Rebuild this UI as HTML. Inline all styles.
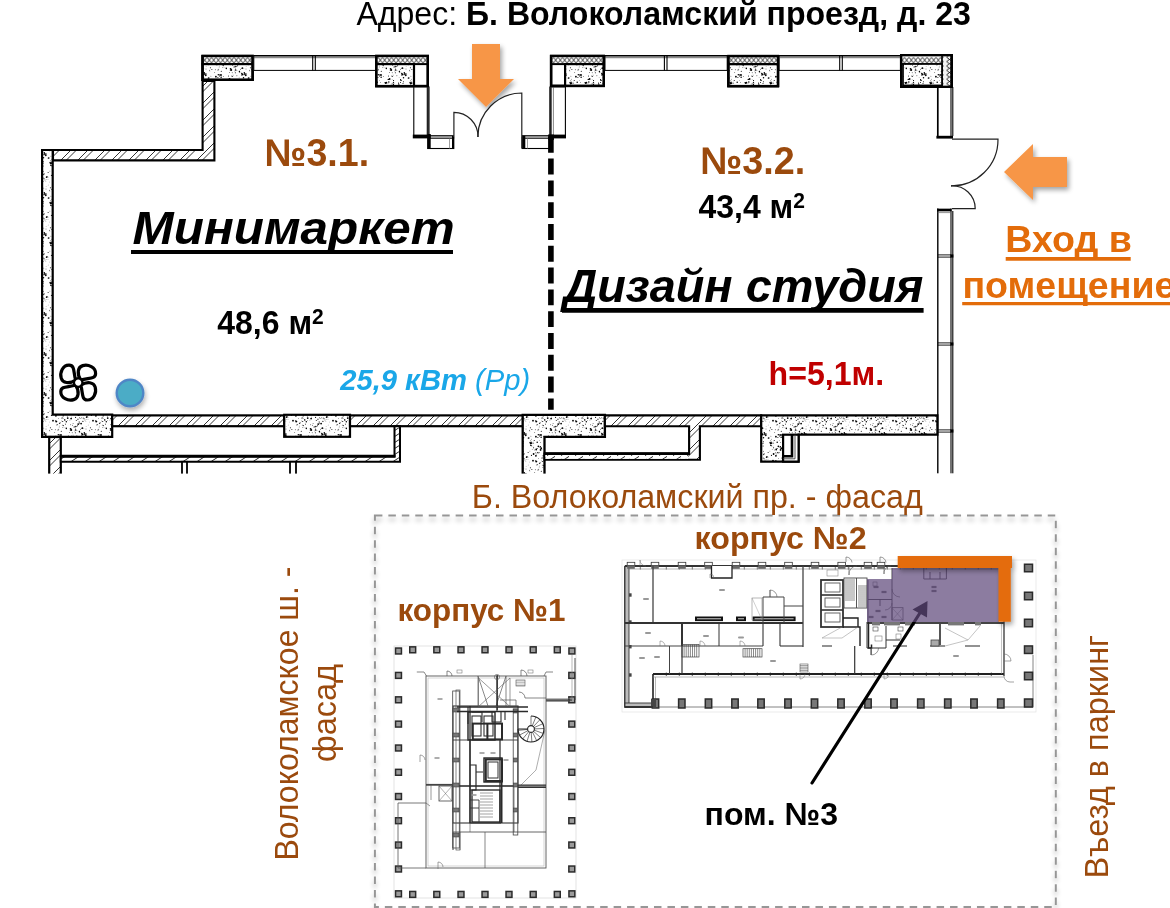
<!DOCTYPE html>
<html lang="ru"><head><meta charset="utf-8"><title>План помещения №3</title>
<style>
html,body{margin:0;padding:0;background:#fff;}
body{width:1170px;height:908px;overflow:hidden;position:relative;font-family:"Liberation Sans",Arial,sans-serif;}
svg{position:absolute;left:0;top:0;display:block;will-change:transform;}
text{font-family:"Liberation Sans",Arial,sans-serif;}
.b{font-weight:bold}.i{font-style:italic}
.br{fill:#9b4a0d}.or{fill:#e36c0a}
</style></head><body>
<svg width="1170" height="908" viewBox="0 0 1170 908">
<defs><pattern id="conc" width="40" height="40" patternUnits="userSpaceOnUse"><rect width="40" height="40" fill="#fff"/><circle cx="13.0" cy="6.0" r="0.30" fill="#000"/><circle cx="2.9" cy="21.4" r="0.55" fill="#000"/><circle cx="23.3" cy="36.4" r="0.45" fill="#000"/><circle cx="1.5" cy="17.3" r="0.35" fill="#000"/><circle cx="9.6" cy="22.0" r="0.30" fill="#000"/><circle cx="33.1" cy="5.0" r="0.45" fill="#000"/><circle cx="25.2" cy="23.3" r="0.30" fill="#000"/><circle cx="23.1" cy="15.9" r="0.45" fill="#000"/><circle cx="1.9" cy="34.3" r="0.50" fill="#000"/><circle cx="16.8" cy="21.6" r="0.50" fill="#000"/><circle cx="22.4" cy="27.3" r="0.35" fill="#000"/><circle cx="23.3" cy="25.6" r="0.55" fill="#000"/><circle cx="3.9" cy="28.5" r="0.30" fill="#000"/><circle cx="24.8" cy="19.9" r="0.75" fill="#000"/><circle cx="31.1" cy="18.6" r="0.90" fill="#000"/><circle cx="14.5" cy="9.9" r="0.40" fill="#000"/><circle cx="28.0" cy="9.8" r="0.50" fill="#000"/><circle cx="21.0" cy="35.0" r="0.90" fill="#000"/><circle cx="11.5" cy="39.2" r="0.35" fill="#000"/><circle cx="20.5" cy="6.6" r="0.55" fill="#000"/><circle cx="6.1" cy="19.6" r="0.30" fill="#000"/><circle cx="38.5" cy="3.1" r="0.55" fill="#000"/><circle cx="13.6" cy="14.0" r="0.90" fill="#000"/><circle cx="23.2" cy="18.2" r="0.35" fill="#000"/><circle cx="37.8" cy="19.0" r="0.35" fill="#000"/><circle cx="2.4" cy="28.1" r="0.90" fill="#000"/><circle cx="11.4" cy="15.4" r="0.55" fill="#000"/><circle cx="0.9" cy="18.5" r="0.40" fill="#000"/><circle cx="24.4" cy="19.7" r="0.45" fill="#000"/><circle cx="30.7" cy="5.2" r="0.45" fill="#000"/><circle cx="15.9" cy="36.7" r="0.90" fill="#000"/><circle cx="3.2" cy="18.0" r="0.50" fill="#000"/><circle cx="35.3" cy="32.8" r="0.50" fill="#000"/><circle cx="28.3" cy="39.5" r="0.75" fill="#000"/><circle cx="38.3" cy="6.0" r="0.40" fill="#000"/><circle cx="6.1" cy="26.3" r="0.30" fill="#000"/><circle cx="19.4" cy="23.6" r="0.50" fill="#000"/><circle cx="11.3" cy="5.8" r="0.55" fill="#000"/><circle cx="24.4" cy="12.7" r="0.40" fill="#000"/><circle cx="27.6" cy="20.6" r="0.30" fill="#000"/><circle cx="18.3" cy="34.8" r="0.75" fill="#000"/><circle cx="15.9" cy="15.8" r="0.90" fill="#000"/><circle cx="25.4" cy="2.5" r="0.35" fill="#000"/><circle cx="39.4" cy="17.6" r="0.35" fill="#000"/><circle cx="13.6" cy="2.1" r="0.30" fill="#000"/><circle cx="22.7" cy="21.5" r="0.55" fill="#000"/><circle cx="24.5" cy="2.8" r="0.45" fill="#000"/><circle cx="24.6" cy="5.9" r="0.50" fill="#000"/><circle cx="38.2" cy="24.1" r="0.90" fill="#000"/><circle cx="4.9" cy="34.0" r="0.90" fill="#000"/><circle cx="19.2" cy="12.5" r="0.40" fill="#000"/><circle cx="4.1" cy="13.7" r="0.50" fill="#000"/><circle cx="19.1" cy="27.7" r="0.30" fill="#000"/><circle cx="8.2" cy="38.1" r="0.55" fill="#000"/><circle cx="5.9" cy="21.7" r="0.30" fill="#000"/><circle cx="30.3" cy="11.9" r="0.35" fill="#000"/><circle cx="27.8" cy="10.4" r="0.55" fill="#000"/><circle cx="36.3" cy="14.2" r="0.45" fill="#000"/><circle cx="21.3" cy="31.2" r="0.55" fill="#000"/><circle cx="25.5" cy="24.5" r="0.45" fill="#000"/><circle cx="32.2" cy="32.7" r="0.45" fill="#000"/><circle cx="8.0" cy="19.7" r="0.30" fill="#000"/><circle cx="39.6" cy="31.6" r="0.90" fill="#000"/><circle cx="10.4" cy="27.7" r="0.55" fill="#000"/><circle cx="17.9" cy="37.5" r="0.55" fill="#000"/><circle cx="38.2" cy="14.6" r="0.45" fill="#000"/><circle cx="4.1" cy="18.8" r="0.55" fill="#000"/><circle cx="8.2" cy="25.0" r="0.30" fill="#000"/><circle cx="19.2" cy="26.1" r="0.35" fill="#000"/><circle cx="33.4" cy="4.8" r="0.75" fill="#000"/><circle cx="31.3" cy="30.0" r="0.90" fill="#000"/><circle cx="35.6" cy="17.4" r="0.55" fill="#000"/><circle cx="3.5" cy="37.8" r="0.75" fill="#000"/><circle cx="18.5" cy="29.7" r="0.35" fill="#000"/><circle cx="29.0" cy="6.8" r="0.40" fill="#000"/><circle cx="1.1" cy="23.6" r="0.90" fill="#000"/><circle cx="32.3" cy="5.8" r="0.90" fill="#000"/><circle cx="26.3" cy="14.0" r="0.40" fill="#000"/><circle cx="0.9" cy="32.0" r="0.35" fill="#000"/><circle cx="21.1" cy="37.3" r="0.75" fill="#000"/><circle cx="39.5" cy="7.8" r="0.45" fill="#000"/><circle cx="1.1" cy="8.5" r="0.45" fill="#000"/><circle cx="30.5" cy="13.0" r="0.75" fill="#000"/><circle cx="33.4" cy="2.4" r="0.55" fill="#000"/><circle cx="35.9" cy="26.5" r="0.75" fill="#000"/><circle cx="33.1" cy="35.1" r="0.40" fill="#000"/><circle cx="21.3" cy="20.9" r="0.30" fill="#000"/><circle cx="34.9" cy="31.1" r="0.30" fill="#000"/><circle cx="31.0" cy="6.0" r="0.40" fill="#000"/><circle cx="18.9" cy="29.0" r="0.30" fill="#000"/><circle cx="13.0" cy="20.7" r="0.90" fill="#000"/><circle cx="31.4" cy="4.2" r="0.30" fill="#000"/><circle cx="9.9" cy="11.1" r="0.35" fill="#000"/><circle cx="20.3" cy="22.5" r="0.35" fill="#000"/><circle cx="17.7" cy="24.5" r="0.45" fill="#000"/><circle cx="27.7" cy="18.1" r="0.90" fill="#000"/><circle cx="20.3" cy="9.9" r="0.50" fill="#000"/><circle cx="36.9" cy="35.7" r="0.45" fill="#000"/><circle cx="33.6" cy="5.5" r="0.35" fill="#000"/><circle cx="15.7" cy="12.6" r="0.45" fill="#000"/><circle cx="17.1" cy="8.5" r="0.50" fill="#000"/><circle cx="31.4" cy="35.9" r="0.40" fill="#000"/><circle cx="37.6" cy="25.7" r="0.55" fill="#000"/><circle cx="5.7" cy="35.3" r="0.90" fill="#000"/><circle cx="8.8" cy="38.1" r="0.75" fill="#000"/><circle cx="35.4" cy="6.5" r="0.45" fill="#000"/><circle cx="6.5" cy="17.3" r="0.75" fill="#000"/><circle cx="13.6" cy="7.8" r="0.55" fill="#000"/><circle cx="3.7" cy="14.6" r="0.55" fill="#000"/><circle cx="22.2" cy="17.6" r="0.30" fill="#000"/><circle cx="15.4" cy="20.7" r="0.50" fill="#000"/><circle cx="20.5" cy="2.6" r="0.45" fill="#000"/><circle cx="38.9" cy="4.2" r="0.50" fill="#000"/><circle cx="10.9" cy="36.2" r="0.40" fill="#000"/><circle cx="10.8" cy="5.2" r="0.75" fill="#000"/><circle cx="34.0" cy="27.0" r="0.50" fill="#000"/><circle cx="16.2" cy="21.5" r="0.90" fill="#000"/><circle cx="28.0" cy="3.6" r="0.30" fill="#000"/><circle cx="32.0" cy="7.3" r="0.35" fill="#000"/><circle cx="10.8" cy="0.7" r="0.35" fill="#000"/><circle cx="32.1" cy="3.3" r="0.45" fill="#000"/><circle cx="2.7" cy="34.5" r="0.90" fill="#000"/><circle cx="0.5" cy="39.8" r="0.75" fill="#000"/><circle cx="37.1" cy="10.7" r="0.40" fill="#000"/><circle cx="1.7" cy="28.4" r="0.35" fill="#000"/><circle cx="38.8" cy="10.5" r="0.40" fill="#000"/><circle cx="8.1" cy="12.5" r="0.50" fill="#000"/><circle cx="21.2" cy="8.2" r="0.90" fill="#000"/><circle cx="20.0" cy="7.1" r="0.55" fill="#000"/><circle cx="32.1" cy="39.8" r="0.30" fill="#000"/><circle cx="0.6" cy="29.3" r="0.45" fill="#000"/><circle cx="20.6" cy="9.8" r="0.90" fill="#000"/><circle cx="4.3" cy="32.8" r="0.75" fill="#000"/><circle cx="26.3" cy="21.8" r="0.75" fill="#000"/><circle cx="38.8" cy="12.3" r="0.45" fill="#000"/><circle cx="39.3" cy="13.7" r="0.40" fill="#000"/><circle cx="16.2" cy="13.9" r="0.30" fill="#000"/><circle cx="33.5" cy="0.6" r="0.50" fill="#000"/><circle cx="17.2" cy="2.2" r="0.75" fill="#000"/><circle cx="34.8" cy="26.8" r="0.50" fill="#000"/><circle cx="24.0" cy="27.7" r="0.30" fill="#000"/><circle cx="18.4" cy="6.3" r="0.90" fill="#000"/><circle cx="0.1" cy="14.6" r="0.55" fill="#000"/><circle cx="38.9" cy="21.9" r="0.45" fill="#000"/><circle cx="1.4" cy="35.3" r="0.45" fill="#000"/><circle cx="14.3" cy="0.0" r="0.75" fill="#000"/><circle cx="3.4" cy="11.2" r="0.45" fill="#000"/><circle cx="9.9" cy="31.0" r="0.35" fill="#000"/><circle cx="10.6" cy="3.6" r="0.75" fill="#000"/><circle cx="23.5" cy="15.8" r="0.50" fill="#000"/><circle cx="12.2" cy="9.3" r="0.40" fill="#000"/><circle cx="26.3" cy="28.6" r="0.75" fill="#000"/><circle cx="30.6" cy="28.8" r="0.90" fill="#000"/><circle cx="6.0" cy="29.0" r="0.40" fill="#000"/><circle cx="1.8" cy="33.4" r="0.75" fill="#000"/><circle cx="29.4" cy="32.5" r="0.40" fill="#000"/><circle cx="36.4" cy="30.1" r="0.30" fill="#000"/><circle cx="33.1" cy="23.4" r="0.45" fill="#000"/><circle cx="3.4" cy="1.7" r="0.55" fill="#000"/><circle cx="38.4" cy="15.1" r="0.90" fill="#000"/><circle cx="22.3" cy="25.1" r="0.45" fill="#000"/><circle cx="19.6" cy="0.1" r="0.35" fill="#000"/><circle cx="29.9" cy="20.1" r="0.35" fill="#000"/><circle cx="26.4" cy="2.6" r="0.90" fill="#000"/><circle cx="10.1" cy="3.0" r="0.50" fill="#000"/><circle cx="9.4" cy="30.3" r="0.45" fill="#000"/><circle cx="29.6" cy="39.0" r="0.90" fill="#000"/><circle cx="33.8" cy="3.1" r="0.50" fill="#000"/><circle cx="30.7" cy="24.7" r="0.45" fill="#000"/><circle cx="3.1" cy="5.9" r="0.50" fill="#000"/><circle cx="26.1" cy="27.7" r="0.40" fill="#000"/><circle cx="0.5" cy="2.4" r="0.50" fill="#000"/><circle cx="38.9" cy="4.0" r="0.45" fill="#000"/><circle cx="27.0" cy="11.6" r="0.50" fill="#000"/><circle cx="18.6" cy="18.7" r="0.35" fill="#000"/><circle cx="39.7" cy="22.0" r="0.50" fill="#000"/><circle cx="39.1" cy="37.5" r="0.30" fill="#000"/><circle cx="11.6" cy="3.1" r="0.90" fill="#000"/><circle cx="39.8" cy="15.5" r="0.45" fill="#000"/><circle cx="3.0" cy="3.6" r="0.50" fill="#000"/><circle cx="38.1" cy="5.3" r="0.50" fill="#000"/><circle cx="35.5" cy="28.1" r="0.45" fill="#000"/><circle cx="19.9" cy="35.0" r="0.75" fill="#000"/><circle cx="1.0" cy="0.1" r="0.90" fill="#000"/><circle cx="27.3" cy="16.2" r="0.40" fill="#000"/><circle cx="16.6" cy="15.0" r="0.35" fill="#000"/><circle cx="33.6" cy="0.1" r="0.55" fill="#000"/><circle cx="33.6" cy="4.8" r="0.45" fill="#000"/><circle cx="28.5" cy="36.1" r="0.50" fill="#000"/><circle cx="10.1" cy="2.6" r="0.75" fill="#000"/><circle cx="40.0" cy="23.6" r="0.55" fill="#000"/><circle cx="37.0" cy="30.2" r="0.30" fill="#000"/><circle cx="11.2" cy="2.1" r="0.50" fill="#000"/><circle cx="25.4" cy="6.0" r="0.50" fill="#000"/><circle cx="17.4" cy="12.6" r="0.55" fill="#000"/><circle cx="31.4" cy="17.1" r="0.30" fill="#000"/><circle cx="32.5" cy="25.2" r="0.45" fill="#000"/><circle cx="28.8" cy="2.0" r="0.75" fill="#000"/><circle cx="18.0" cy="30.1" r="0.50" fill="#000"/><circle cx="19.4" cy="36.5" r="0.40" fill="#000"/><circle cx="6.8" cy="16.6" r="0.50" fill="#000"/><circle cx="11.9" cy="29.6" r="0.50" fill="#000"/><circle cx="16.2" cy="9.5" r="0.90" fill="#000"/><circle cx="22.3" cy="15.8" r="0.40" fill="#000"/><circle cx="25.7" cy="3.0" r="0.90" fill="#000"/><circle cx="22.0" cy="18.1" r="0.55" fill="#000"/><circle cx="39.9" cy="18.0" r="0.40" fill="#000"/><circle cx="21.9" cy="9.8" r="0.40" fill="#000"/><circle cx="13.7" cy="3.6" r="0.45" fill="#000"/><circle cx="14.7" cy="32.4" r="0.45" fill="#000"/><circle cx="35.5" cy="30.0" r="0.75" fill="#000"/><circle cx="15.3" cy="29.8" r="0.45" fill="#000"/><circle cx="15.1" cy="13.5" r="0.30" fill="#000"/><circle cx="19.9" cy="23.0" r="0.55" fill="#000"/><circle cx="5.0" cy="20.1" r="0.45" fill="#000"/><path d="M5.3 34.3l1.3 -1l.5 1.1z" fill="#222"/><path d="M15.8 25.2l1.3 -1l.5 1.1z" fill="#222"/><path d="M17.5 13.2l1.3 -1l.5 1.1z" fill="#222"/><path d="M31.3 36.8l1.3 -1l.5 1.1z" fill="#222"/><path d="M6.6 17.3l1.3 -1l.5 1.1z" fill="#222"/><path d="M29.5 31.0l1.3 -1l.5 1.1z" fill="#222"/><path d="M36.9 19.6l1.3 -1l.5 1.1z" fill="#222"/><path d="M4.6 35.5l1.3 -1l.5 1.1z" fill="#222"/><path d="M35.4 21.0l1.3 -1l.5 1.1z" fill="#222"/></pattern>
<pattern id="hat" width="17" height="17" patternUnits="userSpaceOnUse"><rect width="17" height="17" fill="#fff"/><path d="M-1 1L1 -1M-1 6.5L6.5 -1M-1 18L18 -1M4.5 18L18 4.5M16 18L18 16" stroke="#111" stroke-width="0.85"/></pattern>
<pattern id="hat3" width="14" height="6" patternUnits="userSpaceOnUse"><rect width="14" height="6" fill="#fff"/><path d="M1 5.6L9 0.4" stroke="#111" stroke-width="0.9"/></pattern>
<pattern id="hat2" width="9" height="9" patternUnits="userSpaceOnUse"><rect width="9" height="9" fill="#fff"/><path d="M-1 10L10 -1M-5.5 5.5L5.5 -5.5M3.5 14.5L14.5 3.5" stroke="#333" stroke-width="0.7"/></pattern>
<pattern id="ins" width="4.5" height="8.1" y="56" patternUnits="userSpaceOnUse"><rect width="4.5" height="8.1" fill="#fff"/><path d="M0 1.2L4.5 7.1M4.5 1.2L0 7.1" stroke="#000" stroke-width="0.8"/></pattern>
<pattern id="insv" width="9" height="4.4" patternUnits="userSpaceOnUse"><rect width="9" height="4.4" fill="#f4f4f4"/><path d="M1.4 0L7.6 4.4M1.4 4.4L7.6 0" stroke="#000" stroke-width="0.8"/></pattern>
<filter id="sh" x="-30%" y="-30%" width="170%" height="170%"><feGaussianBlur in="SourceAlpha" stdDeviation="2.4"/><feOffset dx="1.5" dy="2.5"/><feComponentTransfer><feFuncA type="linear" slope="0.36"/></feComponentTransfer><feMerge><feMergeNode/><feMergeNode in="SourceGraphic"/></feMerge></filter>
<filter id="sh2" x="-10%" y="-10%" width="120%" height="120%"><feGaussianBlur in="SourceAlpha" stdDeviation="2.6"/><feOffset dx="0" dy="4"/><feComponentTransfer><feFuncA type="linear" slope="0.3"/></feComponentTransfer><feMerge><feMergeNode/><feMergeNode in="SourceGraphic"/></feMerge></filter>
<filter id="sh3" x="-40%" y="-40%" width="190%" height="190%"><feGaussianBlur in="SourceAlpha" stdDeviation="2.6"/><feOffset dx="0.6" dy="2.6"/><feComponentTransfer><feFuncA type="linear" slope="0.32"/></feComponentTransfer><feMerge><feMergeNode/><feMergeNode in="SourceGraphic"/></feMerge></filter>
</defs>
<path d="M53 150H202.6V81H214.4V160.4H53Z" fill="url(#hat)" stroke="#000" stroke-width="2.1" />
<path d="M42.1 150H52.7V414.6H112.2V436.8H42.1Z" fill="url(#conc)" stroke="#000" stroke-width="2.2" />
<rect x="202.6" y="56" width="50" height="23.8" fill="#fff" stroke="#000" stroke-width="2.4" />
<rect x="202.6" y="56" width="50" height="8.1" fill="url(#ins)" stroke="#000" stroke-width="2" />
<rect x="202.6" y="64.1" width="50" height="15.7" fill="url(#conc)" stroke="#000" stroke-width="2.2" />
<rect x="202.6" y="56" width="50" height="23.8" fill="none" stroke="#000" stroke-width="2.4" />
<rect x="253.8" y="55.6" width="122.5" height="14.8" fill="#fff" stroke="#000" stroke-width="1" />
<line x1="253.8" y1="55.7" x2="376.3" y2="55.7" stroke="#000" stroke-width="1.6" />
<line x1="253.8" y1="57.7" x2="376.3" y2="57.7" stroke="#333" stroke-width="0.7" />
<line x1="312.7" y1="55.6" x2="312.7" y2="70.4" stroke="#000" stroke-width="1.1" />
<line x1="315.3" y1="55.6" x2="315.3" y2="70.4" stroke="#000" stroke-width="1.1" />
<rect x="376.3" y="56" width="51.5" height="30.1" fill="#fff" stroke="#000" stroke-width="2.4" />
<rect x="376.3" y="56" width="51.5" height="8.1" fill="url(#ins)" stroke="#000" stroke-width="2" />
<rect x="376.3" y="64.1" width="37.7" height="22" fill="url(#conc)" stroke="#000" stroke-width="2.2" />
<rect x="376.3" y="56" width="51.5" height="30.1" fill="none" stroke="#000" stroke-width="2.4" />
<rect x="413.8" y="87" width="15.2" height="49" fill="#fff" stroke="#000" stroke-width="1.1" />
<line x1="427.8" y1="87" x2="427.8" y2="136" stroke="#222" stroke-width="2.2" />
<rect x="427.7" y="135.7" width="26.1" height="12.8" fill="#fff" stroke="#000" stroke-width="1.1" />
<rect x="428" y="135.7" width="25.8" height="2.9" fill="#999" stroke="#222" stroke-width="0.8" />
<line x1="429.2" y1="134" x2="429.2" y2="149" stroke="#000" stroke-width="3" />
<line x1="453" y1="136" x2="453" y2="148.5" stroke="#000" stroke-width="2" />
<line x1="449.5" y1="138.6" x2="449.5" y2="148.5" stroke="#888" stroke-width="0.8" />
<line x1="412.8" y1="136.5" x2="430.6" y2="136.5" stroke="#000" stroke-width="3.8" />
<rect x="522.3" y="135.7" width="27.7" height="12.8" fill="#fff" stroke="#000" stroke-width="1.1" />
<rect x="522.3" y="135.7" width="27.7" height="2.9" fill="#999" stroke="#222" stroke-width="0.8" />
<line x1="523.8" y1="135.7" x2="523.8" y2="148.5" stroke="#000" stroke-width="3" />
<line x1="527.5" y1="138.6" x2="527.5" y2="148.5" stroke="#888" stroke-width="0.8" />
<rect x="551.1" y="56" width="52.7" height="29.9" fill="#fff" stroke="#000" stroke-width="2.4" />
<rect x="551.1" y="56" width="52.7" height="8.1" fill="url(#ins)" stroke="#000" stroke-width="2" />
<rect x="565.1" y="64.1" width="38.7" height="21.8" fill="url(#conc)" stroke="#000" stroke-width="2.2" />
<rect x="551.1" y="56" width="52.7" height="29.9" fill="none" stroke="#000" stroke-width="2.4" />
<rect x="550" y="87" width="15.4" height="49" fill="#fff" stroke="#000" stroke-width="1.1" />
<line x1="550.6" y1="87" x2="550.6" y2="136" stroke="#222" stroke-width="2.2" />
<line x1="553.4" y1="87" x2="553.4" y2="136" stroke="#555" stroke-width="0.7" />
<line x1="548.4" y1="136.5" x2="566" y2="136.5" stroke="#000" stroke-width="3.8" />
<rect x="605" y="55.6" width="122.2" height="14.8" fill="#fff" stroke="#000" stroke-width="1" />
<line x1="605" y1="55.7" x2="727.2" y2="55.7" stroke="#000" stroke-width="1.6" />
<line x1="605" y1="57.7" x2="727.2" y2="57.7" stroke="#333" stroke-width="0.7" />
<line x1="664.4" y1="55.6" x2="664.4" y2="70.4" stroke="#000" stroke-width="1.1" />
<line x1="667" y1="55.6" x2="667" y2="70.4" stroke="#000" stroke-width="1.1" />
<rect x="728.4" y="56.1" width="49.6" height="30" fill="#fff" stroke="#000" stroke-width="2.4" />
<rect x="728.4" y="56.1" width="49.6" height="8.1" fill="url(#ins)" stroke="#000" stroke-width="2" />
<rect x="728.4" y="64.2" width="49.6" height="21.9" fill="url(#conc)" stroke="#000" stroke-width="2.2" />
<rect x="728.4" y="56.1" width="49.6" height="30" fill="none" stroke="#000" stroke-width="2.4" />
<rect x="779.2" y="55.6" width="121.2" height="14.8" fill="#fff" stroke="#000" stroke-width="1" />
<line x1="779.2" y1="55.7" x2="900.4" y2="55.7" stroke="#000" stroke-width="1.6" />
<line x1="779.2" y1="57.7" x2="900.4" y2="57.7" stroke="#333" stroke-width="0.7" />
<line x1="839.7" y1="55.6" x2="839.7" y2="70.4" stroke="#000" stroke-width="1.1" />
<line x1="842.3" y1="55.6" x2="842.3" y2="70.4" stroke="#000" stroke-width="1.1" />
<rect x="901" y="55" width="51" height="32" fill="#fff" stroke="#000" stroke-width="2" />
<rect x="901" y="55" width="51" height="9" fill="url(#ins)" stroke="#000" stroke-width="1.6" />
<rect x="942" y="55" width="10" height="32" fill="url(#insv)" stroke="#000" stroke-width="1.6" />
<rect x="903" y="64" width="39" height="21.4" fill="url(#conc)" stroke="#000" stroke-width="1.7" />
<rect x="901.2" y="55.2" width="50.2" height="31.6" fill="none" stroke="#000" stroke-width="2.3" />
<line x1="937.8" y1="87" x2="937.8" y2="138" stroke="#000" stroke-width="1.7" />
<line x1="951" y1="87" x2="951" y2="138" stroke="#000" stroke-width="1.1" />
<line x1="952.8" y1="87" x2="952.8" y2="136" stroke="#000" stroke-width="1.1" />
<line x1="936.4" y1="137.2" x2="953" y2="137.2" stroke="#000" stroke-width="2.8" />
<line x1="937.8" y1="208.6" x2="937.8" y2="473.5" stroke="#000" stroke-width="1.4" />
<line x1="951" y1="208.6" x2="951" y2="473.5" stroke="#000" stroke-width="1.1" />
<line x1="952.8" y1="211" x2="952.8" y2="473.5" stroke="#000" stroke-width="1.1" />
<line x1="937.1" y1="210" x2="951.6" y2="210" stroke="#000" stroke-width="2.7" />
<line x1="937.8" y1="212.6" x2="951" y2="212.6" stroke="#666" stroke-width="0.7" />
<line x1="937.8" y1="254.9" x2="951" y2="254.9" stroke="#000" stroke-width="0.9" />
<line x1="937.8" y1="257.1" x2="951" y2="257.1" stroke="#000" stroke-width="0.9" />
<line x1="950.4" y1="256" x2="953.4" y2="256" stroke="#000" stroke-width="3.2" />
<line x1="937.8" y1="342.9" x2="951" y2="342.9" stroke="#000" stroke-width="0.9" />
<line x1="937.8" y1="345.1" x2="951" y2="345.1" stroke="#000" stroke-width="0.9" />
<line x1="950.4" y1="344" x2="953.4" y2="344" stroke="#000" stroke-width="3.2" />
<line x1="937.8" y1="429.9" x2="951" y2="429.9" stroke="#000" stroke-width="0.9" />
<line x1="937.8" y1="432.1" x2="951" y2="432.1" stroke="#000" stroke-width="0.9" />
<line x1="950.4" y1="431" x2="953.4" y2="431" stroke="#000" stroke-width="3.2" />
<path d="M952 139.2H998A46 46.4 0 0 1 951 185.8" fill="none" stroke="#222" stroke-width="1.2" />
<path d="M952 208.6H975.2A23 22.8 0 0 0 951 185.8" fill="none" stroke="#222" stroke-width="1.2" />
<rect x="112.2" y="415.4" width="172" height="10.8" fill="url(#hat)" stroke="#000" stroke-width="2.2" />
<rect x="284.2" y="414.8" width="65.8" height="22" fill="url(#conc)" stroke="#000" stroke-width="2.2" />
<rect x="350" y="415.4" width="173" height="10.8" fill="url(#hat)" stroke="#000" stroke-width="2.2" />
<rect x="49.2" y="437" width="11.6" height="41" fill="url(#hat)" stroke="#000" stroke-width="2.2" />
<path d="M60.8 456.2H394.5V426.2H400V461.8H60.8Z" fill="url(#hat3)" stroke="#000" stroke-width="2" />
<line x1="60.8" y1="456.2" x2="395.5" y2="456.2" stroke="#000" stroke-width="2.9" />
<rect x="182" y="461.8" width="5" height="16.2" fill="#fff" stroke="#000" stroke-width="1.8" />
<rect x="290" y="461.8" width="6" height="16.2" fill="#fff" stroke="#000" stroke-width="1.8" />
<path d="M522.7 414.8H604.9V436.8H544.5V478H522.7Z" fill="url(#conc)" stroke="#000" stroke-width="2.3" />
<path d="M604.9 415.4H761.2V426.2H699.9V459.7H544.5V453.6H689.1V426.2H604.9Z" fill="url(#hat)" stroke="#000" stroke-width="2.1" />
<rect x="545.5" y="454" width="142.5" height="4.8" fill="url(#hat3)" stroke="#000" stroke-width="0" />
<line x1="544.5" y1="453.6" x2="690" y2="453.6" stroke="#000" stroke-width="2.9" />
<path d="M761.2 415.4H937.4V434.7H798.6V461.6H761.2Z" fill="url(#conc)" stroke="#000" stroke-width="2.2" />
<rect x="783.1" y="434.7" width="15.5" height="26.9" fill="#fff" stroke="#000" stroke-width="2.2" />
<path d="M783.1 456.2H792V434.7" fill="none" stroke="#000" stroke-width="2.6" />
<path d="M795 434.7V458.8H783.1" fill="none" stroke="#444" stroke-width="0.9" />
<line x1="550.9" y1="136.8" x2="550.9" y2="409.8" stroke="#000" stroke-width="5.6" stroke-dasharray="15.9 5.9"/>
<rect x="548.35" y="134.6" width="5.5" height="5.4" fill="#000" stroke="#000" stroke-width="0" />
<rect x="40" y="473.6" width="920" height="6.4" fill="#fff" stroke="none" stroke-width="0" />
<text x="356.4" y="25.1" font-size="32.4" textLength="614.5" lengthAdjust="spacingAndGlyphs">Адрес: <tspan class="b">Б. Волоколамский проезд, д. 23</tspan></text>
<path d="M472 44H500V79H514L486 107L458 79H472Z" fill="#f79646" stroke="none" stroke-width="0" filter="url(#sh)"/>
<path d="M1067 157V187H1033V200L1004 172L1033 144V157Z" fill="#f79646" stroke="none" stroke-width="0" filter="url(#sh)"/>
<path d="M521.8 148.5V93A44.3 44 0 0 0 477.5 137H521.8" fill="#fff" stroke="none" stroke-width="0" />
<path d="M453.9 137V112.3A24.2 24.7 0 0 1 478.1 137" fill="#fff" stroke="#222" stroke-width="1.2" />
<path d="M521.8 148.5V93A44.3 44 0 0 0 477.8 137" fill="none" stroke="#222" stroke-width="1.2" />
<text x="264.6" y="166" font-size="38.5" class="b br" textLength="104.5" lengthAdjust="spacingAndGlyphs" >№3.1.</text>
<text x="700.3" y="173.6" font-size="38.5" class="b br" textLength="105" lengthAdjust="spacingAndGlyphs" >№3.2.</text>
<text x="217.2" y="333.6" font-size="32.6" class="b" textLength="106.6" lengthAdjust="spacingAndGlyphs">48,6 м<tspan font-size="21.4" dy="-9.8">2</tspan></text>
<text x="698.4" y="217.8" font-size="32.6" class="b" textLength="106.6" lengthAdjust="spacingAndGlyphs">43,4 м<tspan font-size="21.4" dy="-9.8">2</tspan></text>
<text x="132.6" y="243.7" font-size="47" class="b i" textLength="322" lengthAdjust="spacingAndGlyphs" >Минимаркет</text>
<line x1="131" y1="252" x2="453" y2="252" stroke="#000" stroke-width="4.2" />
<text x="563.4" y="301.9" font-size="47" class="b i" textLength="360" lengthAdjust="spacingAndGlyphs" >Дизайн студия</text>
<line x1="562" y1="310.3" x2="923.6" y2="310.3" stroke="#000" stroke-width="4.7" />
<text x="340.2" y="389.7" font-size="30.2" fill="#1aa7e8" class="i" textLength="190" lengthAdjust="spacingAndGlyphs"><tspan class="b">25,9 кВт</tspan> (Рр)</text>
<text x="768.6" y="384.6" font-size="32.8" class="b" textLength="115.5" lengthAdjust="spacingAndGlyphs" fill="#c00000">h=5,1м.</text>
<text x="1005.3" y="252.1" font-size="37.2" class="b or" textLength="126.5" lengthAdjust="spacingAndGlyphs" >Вход в</text>
<line x1="1005.7" y1="258.8" x2="1130.7" y2="258.8" stroke="#e36c0a" stroke-width="3.8" />
<text x="962.4" y="297.9" font-size="37.2" class="b or" textLength="213" lengthAdjust="spacingAndGlyphs" >помещение</text>
<line x1="962.2" y1="303.6" x2="1176" y2="303.6" stroke="#e36c0a" stroke-width="3.4" />
<g transform="translate(78.2,382.6)" fill="none" stroke="#000" stroke-width="3.2" stroke-linejoin="round">
<path d="M-2.5 -2.5C-5 -10 -3 -17.2 -9 -17.4C-15.5 -17.6 -18.6 -10 -17 -4.5C-15.6 0.5 -9 1.5 -2.5 -2.5Z" transform="rotate(0)"/>
<path d="M-2.5 -2.5C-5 -10 -3 -17.2 -9 -17.4C-15.5 -17.6 -18.6 -10 -17 -4.5C-15.6 0.5 -9 1.5 -2.5 -2.5Z" transform="rotate(90)"/>
<path d="M-2.5 -2.5C-5 -10 -3 -17.2 -9 -17.4C-15.5 -17.6 -18.6 -10 -17 -4.5C-15.6 0.5 -9 1.5 -2.5 -2.5Z" transform="rotate(180)"/>
<path d="M-2.5 -2.5C-5 -10 -3 -17.2 -9 -17.4C-15.5 -17.6 -18.6 -10 -17 -4.5C-15.6 0.5 -9 1.5 -2.5 -2.5Z" transform="rotate(270)"/>
<circle r="4.3" fill="#fff" stroke-width="2.4"/></g>
<circle cx="130" cy="393" r="13.3" fill="#4bacc6" stroke="#4f86c6" stroke-width="2.4" filter="url(#sh3)"/>
<path d="M374.9 515.4H1055.8V907H374.9Z" fill="none" stroke="#969696" stroke-width="2" stroke-dasharray="7.5 5.957" filter="url(#sh2)"/>
<text x="471.8" y="507.8" font-size="32.4" class="br" textLength="451" lengthAdjust="spacingAndGlyphs" >Б. Волоколамский пр. - фасад</text>
<text x="694.6" y="549.2" font-size="32" class="b br" textLength="172" lengthAdjust="spacingAndGlyphs" >корпус №2</text>
<text x="397.5" y="620.6" font-size="32" class="b br" textLength="168" lengthAdjust="spacingAndGlyphs" >корпус №1</text>
<text x="704.6" y="825" font-size="32" class="b" textLength="133.5" lengthAdjust="spacingAndGlyphs" >пом. №3</text>
<text transform="translate(297.6,860.6) rotate(-90)" font-size="33" class="br" textLength="294" lengthAdjust="spacingAndGlyphs">Волоколамское ш. -</text>
<text transform="translate(336.3,762) rotate(-90)" font-size="33" class="br" textLength="98" lengthAdjust="spacingAndGlyphs">фасад</text>
<text transform="translate(1107.8,878.6) rotate(-90)" font-size="33" class="br" textLength="243.5" lengthAdjust="spacingAndGlyphs">Въезд в паркинг</text>
<rect x="394" y="646" width="182" height="252" fill="none" stroke="#ddd" stroke-width="0.8" />
<rect x="395.55" y="648.05" width="5.9" height="5.9" fill="#9a9a9a" stroke="#2b2b2b" stroke-width="1.5"/>
<rect x="395.55" y="890.85" width="5.9" height="5.9" fill="#9a9a9a" stroke="#2b2b2b" stroke-width="1.5"/>
<rect x="409.75" y="646.85" width="5.9" height="5.9" fill="#9a9a9a" stroke="#2b2b2b" stroke-width="1.5"/>
<rect x="409.75" y="891.45" width="5.9" height="5.9" fill="#9a9a9a" stroke="#2b2b2b" stroke-width="1.5"/>
<rect x="433.85" y="646.85" width="5.9" height="5.9" fill="#9a9a9a" stroke="#2b2b2b" stroke-width="1.5"/>
<rect x="433.85" y="891.45" width="5.9" height="5.9" fill="#9a9a9a" stroke="#2b2b2b" stroke-width="1.5"/>
<rect x="458.05" y="646.85" width="5.9" height="5.9" fill="#9a9a9a" stroke="#2b2b2b" stroke-width="1.5"/>
<rect x="458.05" y="891.45" width="5.9" height="5.9" fill="#9a9a9a" stroke="#2b2b2b" stroke-width="1.5"/>
<rect x="482.05" y="646.85" width="5.9" height="5.9" fill="#9a9a9a" stroke="#2b2b2b" stroke-width="1.5"/>
<rect x="482.05" y="891.45" width="5.9" height="5.9" fill="#9a9a9a" stroke="#2b2b2b" stroke-width="1.5"/>
<rect x="506.05" y="646.85" width="5.9" height="5.9" fill="#9a9a9a" stroke="#2b2b2b" stroke-width="1.5"/>
<rect x="506.05" y="891.45" width="5.9" height="5.9" fill="#9a9a9a" stroke="#2b2b2b" stroke-width="1.5"/>
<rect x="530.25" y="646.85" width="5.9" height="5.9" fill="#9a9a9a" stroke="#2b2b2b" stroke-width="1.5"/>
<rect x="530.25" y="891.45" width="5.9" height="5.9" fill="#9a9a9a" stroke="#2b2b2b" stroke-width="1.5"/>
<rect x="554.35" y="646.85" width="5.9" height="5.9" fill="#9a9a9a" stroke="#2b2b2b" stroke-width="1.5"/>
<rect x="554.35" y="891.45" width="5.9" height="5.9" fill="#9a9a9a" stroke="#2b2b2b" stroke-width="1.5"/>
<rect x="568.95" y="648.05" width="5.9" height="5.9" fill="#9a9a9a" stroke="#2b2b2b" stroke-width="1.5"/>
<rect x="568.95" y="890.85" width="5.9" height="5.9" fill="#9a9a9a" stroke="#2b2b2b" stroke-width="1.5"/>
<rect x="395.55" y="672.45" width="5.9" height="5.9" fill="#9a9a9a" stroke="#2b2b2b" stroke-width="1.5"/>
<rect x="568.85" y="672.45" width="5.9" height="5.9" fill="#9a9a9a" stroke="#2b2b2b" stroke-width="1.5"/>
<rect x="395.55" y="696.85" width="5.9" height="5.9" fill="#9a9a9a" stroke="#2b2b2b" stroke-width="1.5"/>
<rect x="568.85" y="696.85" width="5.9" height="5.9" fill="#9a9a9a" stroke="#2b2b2b" stroke-width="1.5"/>
<rect x="395.55" y="721.15" width="5.9" height="5.9" fill="#9a9a9a" stroke="#2b2b2b" stroke-width="1.5"/>
<rect x="568.85" y="721.15" width="5.9" height="5.9" fill="#9a9a9a" stroke="#2b2b2b" stroke-width="1.5"/>
<rect x="395.55" y="745.05" width="5.9" height="5.9" fill="#9a9a9a" stroke="#2b2b2b" stroke-width="1.5"/>
<rect x="568.85" y="745.05" width="5.9" height="5.9" fill="#9a9a9a" stroke="#2b2b2b" stroke-width="1.5"/>
<rect x="395.55" y="769.35" width="5.9" height="5.9" fill="#9a9a9a" stroke="#2b2b2b" stroke-width="1.5"/>
<rect x="568.85" y="769.35" width="5.9" height="5.9" fill="#9a9a9a" stroke="#2b2b2b" stroke-width="1.5"/>
<rect x="395.55" y="793.55" width="5.9" height="5.9" fill="#9a9a9a" stroke="#2b2b2b" stroke-width="1.5"/>
<rect x="568.85" y="793.55" width="5.9" height="5.9" fill="#9a9a9a" stroke="#2b2b2b" stroke-width="1.5"/>
<rect x="395.55" y="817.75" width="5.9" height="5.9" fill="#9a9a9a" stroke="#2b2b2b" stroke-width="1.5"/>
<rect x="568.85" y="817.75" width="5.9" height="5.9" fill="#9a9a9a" stroke="#2b2b2b" stroke-width="1.5"/>
<rect x="395.55" y="842.05" width="5.9" height="5.9" fill="#9a9a9a" stroke="#2b2b2b" stroke-width="1.5"/>
<rect x="568.85" y="842.05" width="5.9" height="5.9" fill="#9a9a9a" stroke="#2b2b2b" stroke-width="1.5"/>
<rect x="395.55" y="866.05" width="5.9" height="5.9" fill="#9a9a9a" stroke="#2b2b2b" stroke-width="1.5"/>
<rect x="568.85" y="866.05" width="5.9" height="5.9" fill="#9a9a9a" stroke="#2b2b2b" stroke-width="1.5"/>
<rect x="426" y="676" width="120" height="192" fill="none" stroke="#555" stroke-width="0.9" />
<rect x="428" y="678" width="116" height="188" fill="none" stroke="#aaa" stroke-width="0.5" />
<rect x="453" y="706" width="65" height="117" fill="none" stroke="#333" stroke-width="1.1" />
<rect x="456" y="690" width="4" height="160" fill="none" stroke="#555" stroke-width="0.7" />
<rect x="468" y="712" width="27" height="28" fill="none" stroke="#222" stroke-width="1.4" />
<rect x="472" y="716" width="9" height="20" fill="#fff" stroke="#333" stroke-width="1.1" />
<rect x="484" y="716" width="9" height="20" fill="#fff" stroke="#333" stroke-width="1.1" />
<rect x="484" y="758" width="18" height="24" fill="none" stroke="#222" stroke-width="1.4" />
<rect x="488" y="762" width="10" height="16" fill="#fff" stroke="#333" stroke-width="1" />
<rect x="472" y="790" width="28" height="32" fill="none" stroke="#222" stroke-width="1.3" />
<line x1="480" y1="793" x2="493" y2="793" stroke="#444" stroke-width="0.5" />
<line x1="480" y1="796" x2="493" y2="796" stroke="#444" stroke-width="0.5" />
<line x1="480" y1="799" x2="493" y2="799" stroke="#444" stroke-width="0.5" />
<line x1="480" y1="802" x2="493" y2="802" stroke="#444" stroke-width="0.5" />
<line x1="480" y1="805" x2="493" y2="805" stroke="#444" stroke-width="0.5" />
<line x1="480" y1="808" x2="493" y2="808" stroke="#444" stroke-width="0.5" />
<line x1="480" y1="811" x2="493" y2="811" stroke="#444" stroke-width="0.5" />
<line x1="480" y1="814" x2="493" y2="814" stroke="#444" stroke-width="0.5" />
<line x1="480" y1="817" x2="493" y2="817" stroke="#444" stroke-width="0.5" />
<line x1="470" y1="706" x2="470" y2="823" stroke="#222" stroke-width="1.2" />
<line x1="500" y1="740" x2="500" y2="823" stroke="#222" stroke-width="1.2" />
<line x1="453" y1="740" x2="518" y2="740" stroke="#333" stroke-width="0.9" />
<line x1="453" y1="786" x2="518" y2="786" stroke="#222" stroke-width="1.4" />
<line x1="426" y1="785" x2="453" y2="785" stroke="#333" stroke-width="1.1" />
<line x1="518" y1="786" x2="546" y2="786" stroke="#333" stroke-width="1.3" />
<line x1="453" y1="823" x2="453" y2="850" stroke="#555" stroke-width="0.8" />
<line x1="453" y1="832" x2="546" y2="832" stroke="#555" stroke-width="0.9" />
<line x1="485" y1="832" x2="485" y2="868" stroke="#555" stroke-width="0.7" />
<line x1="514" y1="786" x2="514" y2="832" stroke="#555" stroke-width="0.7" />
<rect x="439" y="786" width="13" height="15" fill="none" stroke="#444" stroke-width="0.8" />
<line x1="439" y1="786" x2="452" y2="801" stroke="#666" stroke-width="0.5" />
<line x1="452" y1="786" x2="439" y2="801" stroke="#666" stroke-width="0.5" />
<path d="M478 676L488 706M506 676L496 706M478 676V706M506 676V706" fill="none" stroke="#555" stroke-width="0.7" />
<line x1="497" y1="676" x2="497" y2="712" stroke="#333" stroke-width="1.1" />
<rect x="516" y="680" width="9" height="6" fill="none" stroke="#555" stroke-width="0.6" />
<line x1="516" y1="681" x2="525" y2="681" stroke="#666" stroke-width="0.4" />
<line x1="516" y1="682.5" x2="525" y2="682.5" stroke="#666" stroke-width="0.4" />
<line x1="516" y1="684" x2="525" y2="684" stroke="#666" stroke-width="0.4" />
<line x1="516" y1="685.5" x2="525" y2="685.5" stroke="#666" stroke-width="0.4" />
<g transform="translate(531,729)" fill="none" stroke="#222">
<path d="M-13 0A13 13 0 1 0 0 -13" stroke-width="1.2"/><circle r="3.4" stroke-width="1.1"/><path d="M-13 0H-3.4" stroke-width="1"/>
<line x1="0.0" y1="-3.4" x2="0.0" y2="-13.0" stroke-width="0.6"/>
<line x1="1.3" y1="-3.2" x2="4.9" y2="-12.1" stroke-width="0.6"/>
<line x1="2.4" y1="-2.4" x2="9.0" y2="-9.4" stroke-width="0.6"/>
<line x1="3.1" y1="-1.4" x2="11.9" y2="-5.3" stroke-width="0.6"/>
<line x1="3.4" y1="-0.1" x2="13.0" y2="-0.5" stroke-width="0.6"/>
<line x1="3.2" y1="1.2" x2="12.2" y2="4.4" stroke-width="0.6"/>
<line x1="2.5" y1="2.3" x2="9.7" y2="8.7" stroke-width="0.6"/>
<line x1="1.5" y1="3.1" x2="5.7" y2="11.7" stroke-width="0.6"/>
<line x1="0.2" y1="3.4" x2="0.9" y2="13.0" stroke-width="0.6"/>
<line x1="-1.1" y1="3.2" x2="-4.0" y2="12.4" stroke-width="0.6"/>
<line x1="-2.2" y1="2.6" x2="-8.4" y2="10.0" stroke-width="0.6"/>
<line x1="-3.0" y1="1.6" x2="-11.5" y2="6.1" stroke-width="0.6"/>
<line x1="-3.4" y1="0.4" x2="-12.9" y2="1.4" stroke-width="0.6"/>
</g>
<line x1="546" y1="700" x2="572" y2="700" stroke="#333" stroke-width="1.2" />
<line x1="546" y1="698.5" x2="572" y2="698.5" stroke="#777" stroke-width="0.5" />
<line x1="572" y1="655" x2="572" y2="700" stroke="#888" stroke-width="0.6" />
<path d="M398 803H426M398 868H426M398 803V868" fill="none" stroke="#555" stroke-width="0.8" />
<path d="M545 730L536 770L520 786" fill="none" stroke="#777" stroke-width="0.6" />
<rect x="452.7" y="691" width="6.6" height="157" fill="none" stroke="#444" stroke-width="0.8" />
<rect x="453" y="708" width="6" height="4" fill="#777" stroke="#333" stroke-width="0.5"/>
<rect x="453" y="733" width="6" height="4" fill="#777" stroke="#333" stroke-width="0.5"/>
<rect x="453" y="758" width="6" height="4" fill="#777" stroke="#333" stroke-width="0.5"/>
<rect x="453" y="783" width="6" height="4" fill="#777" stroke="#333" stroke-width="0.5"/>
<rect x="453" y="808" width="6" height="4" fill="#777" stroke="#333" stroke-width="0.5"/>
<rect x="453" y="833" width="6" height="4" fill="#777" stroke="#333" stroke-width="0.5"/>
<rect x="513.2" y="709" width="4.6" height="126" fill="none" stroke="#444" stroke-width="0.8" />
<rect x="513.4" y="709" width="4.2" height="4" fill="#777" stroke="#333" stroke-width="0.5"/>
<rect x="513.4" y="733" width="4.2" height="4" fill="#777" stroke="#333" stroke-width="0.5"/>
<rect x="513.4" y="758" width="4.2" height="4" fill="#777" stroke="#333" stroke-width="0.5"/>
<rect x="513.4" y="783" width="4.2" height="4" fill="#777" stroke="#333" stroke-width="0.5"/>
<rect x="513.4" y="808" width="4.2" height="4" fill="#777" stroke="#333" stroke-width="0.5"/>
<path d="M457 707H528M457 711.5H528" fill="none" stroke="#2a2a2a" stroke-width="1.3" />
<path d="M468 707V724M472 712H482V722M492 711V722H501V711M505 711.5V720" fill="none" stroke="#2a2a2a" stroke-width="1.1" />
<rect x="472.8" y="723.6" width="29.2" height="15.8" fill="none" stroke="#2a2a2a" stroke-width="2" />
<line x1="487.4" y1="723.6" x2="487.4" y2="739.4" stroke="#2a2a2a" stroke-width="2" />
<rect x="485.8" y="759.4" width="16.2" height="21.6" fill="none" stroke="#2a2a2a" stroke-width="2" />
<path d="M470 739V823H501M470 765H476V790H470M476 772H483" fill="none" stroke="#2a2a2a" stroke-width="1.2" />
<path d="M470 800H479V822M470 808H479" fill="none" stroke="#333" stroke-width="0.9" />
<path d="M501.7 781V823" fill="none" stroke="#2a2a2a" stroke-width="1.6" />
<path d="M518 785H546M518 787.5H546" fill="none" stroke="#333" stroke-width="1" />
<path d="M426 784.6H453" fill="none" stroke="#444" stroke-width="1.4" />
<line x1="546" y1="700.6" x2="568.6" y2="700.6" stroke="#555" stroke-width="2" />
<path d="M416.8 672H424L426.5 676M553 672H546L544 676M447 676V671A5 5 0 0 1 452 676M521 676V670A6 6 0 0 1 527 676" fill="none" stroke="#555" stroke-width="0.7" />
<rect x="457" y="670" width="5" height="3" fill="none" stroke="#666" stroke-width="0.5" />
<rect x="528" y="670" width="5" height="3" fill="none" stroke="#666" stroke-width="0.5" />
<path d="M497.2 675V710" fill="none" stroke="#2a2a2a" stroke-width="1.2" />
<circle cx="497" cy="677" r="2.6" fill="none" stroke="#555" stroke-width="0.6"/>
<path d="M478.5 678L510 706.6M510 678L478.5 706.6M478.5 678V706.6H510V678" fill="none" stroke="#555" stroke-width="0.6" />
<path d="M500 700H516V706M519 692A6 6 0 0 1 525 698H546" fill="none" stroke="#555" stroke-width="0.7" />
<path d="M453 832V850M460 832V850M470 823V832M426 803L430 806M431 785V800" fill="none" stroke="#555" stroke-width="0.6" />
<path d="M420 762V755A5 5 0 0 1 425 760M438 869V862A5 5 0 0 1 443 867" fill="none" stroke="#666" stroke-width="0.6" />
<rect x="437.5" y="698.2" width="5" height="1.6" fill="#999"/>
<rect x="434.5" y="757.2" width="5" height="1.6" fill="#999"/>
<rect x="503.5" y="759.2" width="5" height="1.6" fill="#999"/>
<rect x="471.5" y="794.2" width="5" height="1.6" fill="#999"/>
<rect x="490.5" y="752.2" width="5" height="1.6" fill="#999"/>
<rect x="479.5" y="752.2" width="5" height="1.6" fill="#999"/>
<line x1="575" y1="658" x2="575" y2="700" stroke="#444" stroke-width="0.9" />
<rect x="622" y="560" width="414" height="152" fill="none" stroke="#e2e2e2" stroke-width="0.7" />
<line x1="625" y1="707" x2="1033" y2="707" stroke="#777" stroke-width="0.9" />
<line x1="1033" y1="655" x2="1033" y2="707" stroke="#777" stroke-width="0.9" />
<path d="M625 566H1004M625 566V707H653V674" fill="none" stroke="#222" stroke-width="1.6" />
<rect x="625" y="566" width="4" height="141" fill="#bbb" stroke="#333" stroke-width="0.9" />
<rect x="625" y="703" width="28" height="4" fill="#bbb" stroke="#333" stroke-width="0.9" />
<rect x="629" y="593.3" width="2.6" height="3.4" fill="#444"/>
<rect x="629" y="620.3" width="2.6" height="3.4" fill="#444"/>
<rect x="629" y="645" width="2.6" height="3.4" fill="#444"/>
<rect x="629" y="673.3" width="2.6" height="3.4" fill="#444"/>
<line x1="666.3" y1="672.5" x2="666.3" y2="676" stroke="#333" stroke-width="0.8" />
<line x1="679.3" y1="672.5" x2="679.3" y2="676" stroke="#333" stroke-width="0.8" />
<line x1="692.3" y1="672.5" x2="692.3" y2="676" stroke="#333" stroke-width="0.8" />
<line x1="705.3" y1="672.5" x2="705.3" y2="676" stroke="#333" stroke-width="0.8" />
<line x1="718.3" y1="672.5" x2="718.3" y2="676" stroke="#333" stroke-width="0.8" />
<line x1="731.3" y1="672.5" x2="731.3" y2="676" stroke="#333" stroke-width="0.8" />
<line x1="744.3" y1="672.5" x2="744.3" y2="676" stroke="#333" stroke-width="0.8" />
<line x1="757.3" y1="672.5" x2="757.3" y2="676" stroke="#333" stroke-width="0.8" />
<line x1="770.3" y1="672.5" x2="770.3" y2="676" stroke="#333" stroke-width="0.8" />
<line x1="783.3" y1="672.5" x2="783.3" y2="676" stroke="#333" stroke-width="0.8" />
<line x1="796.3" y1="672.5" x2="796.3" y2="676" stroke="#333" stroke-width="0.8" />
<line x1="809.3" y1="672.5" x2="809.3" y2="676" stroke="#333" stroke-width="0.8" />
<line x1="822.3" y1="672.5" x2="822.3" y2="676" stroke="#333" stroke-width="0.8" />
<line x1="835.3" y1="672.5" x2="835.3" y2="676" stroke="#333" stroke-width="0.8" />
<line x1="848.3" y1="672.5" x2="848.3" y2="676" stroke="#333" stroke-width="0.8" />
<line x1="861.3" y1="672.5" x2="861.3" y2="676" stroke="#333" stroke-width="0.8" />
<line x1="874.3" y1="672.5" x2="874.3" y2="676" stroke="#333" stroke-width="0.8" />
<line x1="887.3" y1="672.5" x2="887.3" y2="676" stroke="#333" stroke-width="0.8" />
<line x1="900.3" y1="672.5" x2="900.3" y2="676" stroke="#333" stroke-width="0.8" />
<line x1="913.3" y1="672.5" x2="913.3" y2="676" stroke="#333" stroke-width="0.8" />
<line x1="926.3" y1="672.5" x2="926.3" y2="676" stroke="#333" stroke-width="0.8" />
<line x1="939.3" y1="672.5" x2="939.3" y2="676" stroke="#333" stroke-width="0.8" />
<line x1="952.3" y1="672.5" x2="952.3" y2="676" stroke="#333" stroke-width="0.8" />
<line x1="965.3" y1="672.5" x2="965.3" y2="676" stroke="#333" stroke-width="0.8" />
<line x1="978.3" y1="672.5" x2="978.3" y2="676" stroke="#333" stroke-width="0.8" />
<line x1="991.3" y1="672.5" x2="991.3" y2="676" stroke="#333" stroke-width="0.8" />
<line x1="640.3" y1="566" x2="640.3" y2="569.5" stroke="#444" stroke-width="0.7" />
<line x1="653.3" y1="566" x2="653.3" y2="569.5" stroke="#444" stroke-width="0.7" />
<line x1="666.3" y1="566" x2="666.3" y2="569.5" stroke="#444" stroke-width="0.7" />
<line x1="679.3" y1="566" x2="679.3" y2="569.5" stroke="#444" stroke-width="0.7" />
<line x1="692.3" y1="566" x2="692.3" y2="569.5" stroke="#444" stroke-width="0.7" />
<line x1="705.3" y1="566" x2="705.3" y2="569.5" stroke="#444" stroke-width="0.7" />
<line x1="718.3" y1="566" x2="718.3" y2="569.5" stroke="#444" stroke-width="0.7" />
<line x1="731.3" y1="566" x2="731.3" y2="569.5" stroke="#444" stroke-width="0.7" />
<line x1="744.3" y1="566" x2="744.3" y2="569.5" stroke="#444" stroke-width="0.7" />
<line x1="757.3" y1="566" x2="757.3" y2="569.5" stroke="#444" stroke-width="0.7" />
<line x1="770.3" y1="566" x2="770.3" y2="569.5" stroke="#444" stroke-width="0.7" />
<line x1="783.3" y1="566" x2="783.3" y2="569.5" stroke="#444" stroke-width="0.7" />
<line x1="796.3" y1="566" x2="796.3" y2="569.5" stroke="#444" stroke-width="0.7" />
<line x1="809.3" y1="566" x2="809.3" y2="569.5" stroke="#444" stroke-width="0.7" />
<line x1="822.3" y1="566" x2="822.3" y2="569.5" stroke="#444" stroke-width="0.7" />
<line x1="835.3" y1="566" x2="835.3" y2="569.5" stroke="#444" stroke-width="0.7" />
<line x1="848.3" y1="566" x2="848.3" y2="569.5" stroke="#444" stroke-width="0.7" />
<line x1="861.3" y1="566" x2="861.3" y2="569.5" stroke="#444" stroke-width="0.7" />
<line x1="874.3" y1="566" x2="874.3" y2="569.5" stroke="#444" stroke-width="0.7" />
<line x1="887.3" y1="566" x2="887.3" y2="569.5" stroke="#444" stroke-width="0.7" />
<line x1="900.3" y1="566" x2="900.3" y2="569.5" stroke="#444" stroke-width="0.7" />
<line x1="913.3" y1="566" x2="913.3" y2="569.5" stroke="#444" stroke-width="0.7" />
<line x1="926.3" y1="566" x2="926.3" y2="569.5" stroke="#444" stroke-width="0.7" />
<line x1="939.3" y1="566" x2="939.3" y2="569.5" stroke="#444" stroke-width="0.7" />
<line x1="952.3" y1="566" x2="952.3" y2="569.5" stroke="#444" stroke-width="0.7" />
<line x1="965.3" y1="566" x2="965.3" y2="569.5" stroke="#444" stroke-width="0.7" />
<line x1="978.3" y1="566" x2="978.3" y2="569.5" stroke="#444" stroke-width="0.7" />
<line x1="991.3" y1="566" x2="991.3" y2="569.5" stroke="#444" stroke-width="0.7" />
<line x1="629" y1="569" x2="1004" y2="569" stroke="#666" stroke-width="0.5" />
<line x1="625" y1="566" x2="1004" y2="566" stroke="#333" stroke-width="2.2" />
<line x1="653" y1="674" x2="1004" y2="674" stroke="#222" stroke-width="1.8" />
<line x1="653" y1="677" x2="1004" y2="677" stroke="#888" stroke-width="0.6" />
<line x1="1004" y1="566" x2="1004" y2="676" stroke="#333" stroke-width="1.3" />
<line x1="1001.5" y1="622" x2="1001.5" y2="674" stroke="#888" stroke-width="0.5" />
<line x1="655.5" y1="677" x2="655.5" y2="705" stroke="#888" stroke-width="0.6" />
<rect x="627.2" y="562.3" width="7.6" height="3.2" fill="#fff" stroke="#333" stroke-width="0.8"/>
<rect x="627.2" y="565.6" width="7.6" height="3.2" fill="#666"/>
<rect x="651.2" y="562.3" width="7.6" height="3.2" fill="#fff" stroke="#333" stroke-width="0.8"/>
<rect x="651.2" y="565.6" width="7.6" height="3.2" fill="#666"/>
<rect x="678.2" y="562.3" width="7.6" height="3.2" fill="#fff" stroke="#333" stroke-width="0.8"/>
<rect x="678.2" y="565.6" width="7.6" height="3.2" fill="#666"/>
<rect x="704.7" y="562.3" width="7.6" height="3.2" fill="#fff" stroke="#333" stroke-width="0.8"/>
<rect x="704.7" y="565.6" width="7.6" height="3.2" fill="#666"/>
<rect x="732.2" y="562.3" width="7.6" height="3.2" fill="#fff" stroke="#333" stroke-width="0.8"/>
<rect x="732.2" y="565.6" width="7.6" height="3.2" fill="#666"/>
<rect x="758.2" y="562.3" width="7.6" height="3.2" fill="#fff" stroke="#333" stroke-width="0.8"/>
<rect x="758.2" y="565.6" width="7.6" height="3.2" fill="#666"/>
<rect x="784.7" y="562.3" width="7.6" height="3.2" fill="#fff" stroke="#333" stroke-width="0.8"/>
<rect x="784.7" y="565.6" width="7.6" height="3.2" fill="#666"/>
<rect x="811.2" y="562.3" width="7.6" height="3.2" fill="#fff" stroke="#333" stroke-width="0.8"/>
<rect x="811.2" y="565.6" width="7.6" height="3.2" fill="#666"/>
<rect x="837.9" y="562.3" width="7.6" height="3.2" fill="#fff" stroke="#333" stroke-width="0.8"/>
<rect x="837.9" y="565.6" width="7.6" height="3.2" fill="#666"/>
<rect x="864.2" y="562.3" width="7.6" height="3.2" fill="#fff" stroke="#333" stroke-width="0.8"/>
<rect x="864.2" y="565.6" width="7.6" height="3.2" fill="#666"/>
<rect x="877.2" y="562.3" width="7.6" height="3.2" fill="#fff" stroke="#333" stroke-width="0.8"/>
<rect x="877.2" y="565.6" width="7.6" height="3.2" fill="#666"/>
<path d="M711.5 566V578H732V566" fill="#fff" stroke="#222" stroke-width="1.3" />
<line x1="653" y1="566" x2="653" y2="623" stroke="#444" stroke-width="1.3" />
<line x1="625" y1="623" x2="803" y2="623" stroke="#333" stroke-width="2" />
<line x1="803" y1="566" x2="803" y2="647" stroke="#444" stroke-width="1.3" />
<line x1="625" y1="646" x2="763" y2="646" stroke="#444" stroke-width="1.2" />
<line x1="780" y1="646" x2="803" y2="646" stroke="#444" stroke-width="1.2" />
<line x1="682" y1="623" x2="682" y2="646" stroke="#333" stroke-width="2" />
<line x1="719" y1="623" x2="719" y2="646" stroke="#333" stroke-width="1" />
<line x1="763" y1="623" x2="763" y2="646" stroke="#333" stroke-width="1.1" />
<line x1="780" y1="623" x2="780" y2="646" stroke="#333" stroke-width="1.1" />
<line x1="669.5" y1="646" x2="669.5" y2="674" stroke="#444" stroke-width="1" />
<line x1="682" y1="646" x2="682" y2="674" stroke="#333" stroke-width="1.2" />
<rect x="695" y="616.5" width="28" height="4.6" fill="#111"/>
<rect x="697" y="618" width="24" height="1.4" fill="#999"/>
<rect x="736" y="616.5" width="10" height="4.6" fill="#111"/>
<rect x="738" y="618" width="6" height="1.4" fill="#999"/>
<rect x="752.6" y="616.5" width="43" height="4.6" fill="#111"/>
<rect x="754.6" y="618" width="39" height="1.4" fill="#999"/>
<path d="M763 623V597H770V590M770 597H784V606H803M784 606V623" fill="none" stroke="#444" stroke-width="1" />
<rect x="752" y="598" width="10" height="22" fill="none" stroke="#888" stroke-width="0.6" />
<line x1="752" y1="598" x2="762" y2="620" stroke="#888" stroke-width="0.4" />
<path d="M770 590A7 7 0 0 1 777 597" fill="none" stroke="#555" stroke-width="0.6" />
<rect x="682" y="644.6" width="17" height="12.4" fill="none" stroke="#444" stroke-width="0.7" />
<line x1="684.1" y1="644.6" x2="684.1" y2="657" stroke="#3a3a3a" stroke-width="0.6" />
<line x1="686.2" y1="644.6" x2="686.2" y2="657" stroke="#3a3a3a" stroke-width="0.6" />
<line x1="688.3" y1="644.6" x2="688.3" y2="657" stroke="#3a3a3a" stroke-width="0.6" />
<line x1="690.4" y1="644.6" x2="690.4" y2="657" stroke="#3a3a3a" stroke-width="0.6" />
<line x1="692.5" y1="644.6" x2="692.5" y2="657" stroke="#3a3a3a" stroke-width="0.6" />
<line x1="694.6" y1="644.6" x2="694.6" y2="657" stroke="#3a3a3a" stroke-width="0.6" />
<line x1="696.7" y1="644.6" x2="696.7" y2="657" stroke="#3a3a3a" stroke-width="0.6" />
<rect x="743" y="648.7" width="19" height="8.3" fill="none" stroke="#444" stroke-width="0.7" />
<line x1="745.1" y1="648.7" x2="745.1" y2="657" stroke="#3a3a3a" stroke-width="0.6" />
<line x1="747.2" y1="648.7" x2="747.2" y2="657" stroke="#3a3a3a" stroke-width="0.6" />
<line x1="749.3" y1="648.7" x2="749.3" y2="657" stroke="#3a3a3a" stroke-width="0.6" />
<line x1="751.4" y1="648.7" x2="751.4" y2="657" stroke="#3a3a3a" stroke-width="0.6" />
<line x1="753.5" y1="648.7" x2="753.5" y2="657" stroke="#3a3a3a" stroke-width="0.6" />
<line x1="755.6" y1="648.7" x2="755.6" y2="657" stroke="#3a3a3a" stroke-width="0.6" />
<line x1="757.7" y1="648.7" x2="757.7" y2="657" stroke="#3a3a3a" stroke-width="0.6" />
<line x1="759.8" y1="648.7" x2="759.8" y2="657" stroke="#3a3a3a" stroke-width="0.6" />
<rect x="800" y="664" width="8" height="8" fill="none" stroke="#555" stroke-width="0.6" />
<line x1="800" y1="665.6" x2="808" y2="665.6" stroke="#444" stroke-width="0.55" />
<line x1="800" y1="667.2" x2="808" y2="667.2" stroke="#444" stroke-width="0.55" />
<line x1="800" y1="668.8" x2="808" y2="668.8" stroke="#444" stroke-width="0.55" />
<line x1="800" y1="670.4" x2="808" y2="670.4" stroke="#444" stroke-width="0.55" />
<path d="M660 646V641A5 5 0 0 1 665 646" fill="none" stroke="#666" stroke-width="0.5" />
<path d="M700 646V641A5 5 0 0 1 705 646" fill="none" stroke="#666" stroke-width="0.5" />
<path d="M740 646V641A5 5 0 0 1 745 646" fill="none" stroke="#666" stroke-width="0.5" />
<path d="M640 566V560A6 6 0 0 0 646 566" fill="none" stroke="#666" stroke-width="0.5" />
<path d="M710 578V574A4 4 0 0 1 714 578" fill="none" stroke="#666" stroke-width="0.5" />
<path d="M800 674V679A5 5 0 0 0 805 674" fill="none" stroke="#666" stroke-width="0.5" />
<path d="M884 674V679A5 5 0 0 0 889 674" fill="none" stroke="#666" stroke-width="0.5" />
<rect x="643" y="598" width="6" height="2" rx="1" fill="#999"/>
<rect x="719" y="589" width="6" height="2" rx="1" fill="#999"/>
<rect x="645" y="632" width="6" height="2" rx="1" fill="#999"/>
<rect x="703" y="635" width="6" height="2" rx="1" fill="#999"/>
<rect x="738" y="636.5" width="6" height="2" rx="1" fill="#999"/>
<rect x="639" y="657" width="6" height="2" rx="1" fill="#999"/>
<rect x="654" y="656" width="6" height="2" rx="1" fill="#999"/>
<rect x="770" y="660" width="6" height="2" rx="1" fill="#999"/>
<rect x="953" y="655" width="6" height="2" rx="1" fill="#999"/>
<rect x="821" y="580" width="22" height="47" fill="#fff" stroke="#333" stroke-width="1.8" />
<line x1="821" y1="595" x2="843" y2="595" stroke="#333" stroke-width="1.6" />
<line x1="821" y1="610" x2="843" y2="610" stroke="#333" stroke-width="1.6" />
<rect x="825" y="583" width="15" height="9" fill="#fff" stroke="#555" stroke-width="0.9" />
<rect x="825" y="598" width="15" height="9" fill="#fff" stroke="#555" stroke-width="0.9" />
<rect x="825" y="613" width="15" height="9" fill="#fff" stroke="#555" stroke-width="0.9" />
<rect x="844" y="578" width="23" height="30" fill="none" stroke="#444" stroke-width="0.9" />
<line x1="845" y1="580" x2="855" y2="580" stroke="#333" stroke-width="0.55" />
<line x1="845" y1="582" x2="855" y2="582" stroke="#333" stroke-width="0.55" />
<line x1="845" y1="584" x2="855" y2="584" stroke="#333" stroke-width="0.55" />
<line x1="845" y1="586" x2="855" y2="586" stroke="#333" stroke-width="0.55" />
<line x1="845" y1="588" x2="855" y2="588" stroke="#333" stroke-width="0.55" />
<line x1="845" y1="590" x2="855" y2="590" stroke="#333" stroke-width="0.55" />
<line x1="845" y1="592" x2="855" y2="592" stroke="#333" stroke-width="0.55" />
<line x1="845" y1="594" x2="855" y2="594" stroke="#333" stroke-width="0.55" />
<line x1="845" y1="596" x2="855" y2="596" stroke="#333" stroke-width="0.55" />
<line x1="845" y1="598" x2="855" y2="598" stroke="#333" stroke-width="0.55" />
<line x1="845" y1="600" x2="855" y2="600" stroke="#333" stroke-width="0.55" />
<line x1="858" y1="586" x2="867" y2="586" stroke="#333" stroke-width="0.55" />
<line x1="858" y1="588" x2="867" y2="588" stroke="#333" stroke-width="0.55" />
<line x1="858" y1="590" x2="867" y2="590" stroke="#333" stroke-width="0.55" />
<line x1="858" y1="592" x2="867" y2="592" stroke="#333" stroke-width="0.55" />
<line x1="858" y1="594" x2="867" y2="594" stroke="#333" stroke-width="0.55" />
<line x1="858" y1="596" x2="867" y2="596" stroke="#333" stroke-width="0.55" />
<line x1="858" y1="598" x2="867" y2="598" stroke="#333" stroke-width="0.55" />
<line x1="858" y1="600" x2="867" y2="600" stroke="#333" stroke-width="0.55" />
<line x1="858" y1="602" x2="867" y2="602" stroke="#333" stroke-width="0.55" />
<line x1="858" y1="604" x2="867" y2="604" stroke="#333" stroke-width="0.55" />
<line x1="858" y1="606" x2="867" y2="606" stroke="#333" stroke-width="0.55" />
<line x1="856.5" y1="578" x2="856.5" y2="608" stroke="#444" stroke-width="0.9" />
<path d="M849 566V575A8 8 0 0 1 857 566M884 566V574A7 7 0 0 1 891 566" fill="none" stroke="#555" stroke-width="0.6" />
<path d="M846 562V557A6 6 0 0 1 852 562.5M880 562V557A6 6 0 0 1 886 562.5" fill="none" stroke="#555" stroke-width="0.6" />
<rect x="827" y="570" width="11" height="6" fill="none" stroke="#777" stroke-width="0.5" />
<path d="M843 618H858V627M843 627H860V646" fill="none" stroke="#222" stroke-width="1.4" />
<path d="M822 638H842L858 627M822 638L842 627" fill="none" stroke="#888" stroke-width="0.5" />
<line x1="822" y1="646" x2="832" y2="646" stroke="#777" stroke-width="1.6" />
<line x1="893" y1="646" x2="907" y2="646" stroke="#777" stroke-width="1.6" />
<line x1="930" y1="646" x2="945" y2="646" stroke="#777" stroke-width="1.6" />
<line x1="965" y1="646" x2="980" y2="646" stroke="#777" stroke-width="1.6" />
<path d="M867 622V648H871V655M871 648H886V626M886 640H900" fill="none" stroke="#333" stroke-width="1" />
<line x1="854.7" y1="646" x2="854.7" y2="674" stroke="#333" stroke-width="1.2" />
<line x1="940" y1="622" x2="940" y2="645" stroke="#555" stroke-width="2" />
<rect x="931" y="640" width="8" height="6" fill="#aaa" stroke="#444" stroke-width="0.8" />
<path d="M945 628L968 640L980 626M945 646L968 640" fill="none" stroke="#888" stroke-width="0.5" />
<line x1="867" y1="623" x2="1004" y2="623" stroke="#444" stroke-width="2.2" />
<rect x="872" y="622" width="8" height="3.4" fill="#777"/>
<rect x="884" y="622" width="16" height="3.4" fill="#777"/>
<rect x="905" y="622" width="10" height="3.4" fill="#777"/>
<rect x="948" y="622" width="16" height="3.4" fill="#777"/>
<rect x="975" y="622" width="6" height="3.4" fill="#777"/>
<rect x="652.3" y="699" width="6.4" height="9" fill="#777" stroke="#2b2b2b" stroke-width="1.5"/>
<rect x="678.6" y="699" width="6.4" height="9" fill="#777" stroke="#2b2b2b" stroke-width="1.5"/>
<rect x="705.3" y="699" width="6.4" height="9" fill="#777" stroke="#2b2b2b" stroke-width="1.5"/>
<rect x="731.8" y="699" width="6.4" height="9" fill="#777" stroke="#2b2b2b" stroke-width="1.5"/>
<rect x="757.8" y="699" width="6.4" height="9" fill="#777" stroke="#2b2b2b" stroke-width="1.5"/>
<rect x="784.8" y="699" width="6.4" height="9" fill="#777" stroke="#2b2b2b" stroke-width="1.5"/>
<rect x="811.3" y="699" width="6.4" height="9" fill="#777" stroke="#2b2b2b" stroke-width="1.5"/>
<rect x="837.8" y="699" width="6.4" height="9" fill="#777" stroke="#2b2b2b" stroke-width="1.5"/>
<rect x="864.8" y="699" width="6.4" height="9" fill="#777" stroke="#2b2b2b" stroke-width="1.5"/>
<rect x="890.8" y="699" width="6.4" height="9" fill="#777" stroke="#2b2b2b" stroke-width="1.5"/>
<rect x="917.6" y="699" width="6.4" height="9" fill="#777" stroke="#2b2b2b" stroke-width="1.5"/>
<rect x="944.6" y="699" width="6.4" height="9" fill="#777" stroke="#2b2b2b" stroke-width="1.5"/>
<rect x="970.8" y="699" width="6.4" height="9" fill="#777" stroke="#2b2b2b" stroke-width="1.5"/>
<rect x="997.6" y="699" width="6.4" height="9" fill="#777" stroke="#2b2b2b" stroke-width="1.5"/>
<rect x="1024.5" y="699" width="8" height="8" fill="#777" stroke="#2b2b2b" stroke-width="1.5"/>
<rect x="1024.5" y="564.25" width="8" height="7.5" fill="#777" stroke="#2b2b2b" stroke-width="1.5"/>
<rect x="1024.5" y="592.25" width="8" height="7.5" fill="#777" stroke="#2b2b2b" stroke-width="1.5"/>
<rect x="1024.5" y="619.25" width="8" height="7.5" fill="#777" stroke="#2b2b2b" stroke-width="1.5"/>
<rect x="1024.5" y="645.95" width="8" height="7.5" fill="#777" stroke="#2b2b2b" stroke-width="1.5"/>
<rect x="1024.5" y="672.25" width="8" height="7.5" fill="#777" stroke="#2b2b2b" stroke-width="1.5"/>
<rect x="651" y="699" width="5" height="9" fill="#444"/>
<path d="M625 707H653" fill="none" stroke="#333" stroke-width="2" />
<path d="M892 568V620M868 599.5H892M868 580V622M880 599.5V606M923.8 568V579H946.4V568M930 579V572M940 579V572" fill="none" stroke="#333" stroke-width="0.9" />
<path d="M892 589A8 8 0 0 0 900 597M892 603A7 7 0 0 1 885 610" fill="none" stroke="#444" stroke-width="0.6" />
<rect x="892" y="607.7" width="11" height="12.3" fill="none" stroke="#444" stroke-width="0.7" />
<line x1="892" y1="607.7" x2="903" y2="620" stroke="#555" stroke-width="0.4" />
<line x1="903" y1="607.7" x2="892" y2="620" stroke="#555" stroke-width="0.4" />
<rect x="873.5" y="585.9" width="5" height="2.2" fill="#666"/>
<rect x="881.5" y="590.9" width="5" height="2.2" fill="#666"/>
<rect x="875.5" y="609.9" width="5" height="2.2" fill="#666"/>
<rect x="881.5" y="615.9" width="5" height="2.2" fill="#666"/>
<rect x="868.5" y="615.9" width="5" height="2.2" fill="#666"/>
<rect x="931.5" y="589.9" width="5" height="2.2" fill="#666"/>
<rect x="931.5" y="585.9" width="5" height="2.2" fill="#666"/>
<rect x="873" y="582" width="4" height="4" fill="none" stroke="#555" stroke-width="0.5" />
<path d="M868.5 622V648H871.5V644.6" fill="none" stroke="#222" stroke-width="1.5" />
<rect x="873" y="627" width="5" height="4" fill="none" stroke="#444" stroke-width="0.6" />
<rect x="898" y="627" width="5" height="4" fill="none" stroke="#444" stroke-width="0.6" />
<rect x="875" y="636" width="7" height="5" fill="none" stroke="#666" stroke-width="0.5" />
<rect x="896" y="634" width="5" height="5" fill="none" stroke="#666" stroke-width="0.5" />
<path d="M871.5 648V655A7 7 0 0 0 878.5 648" fill="none" stroke="#555" stroke-width="0.6" />
<path d="M1004 654A7 7 0 0 1 1011 661H1004M1004 676A6 6 0 0 0 1010 682H1014" fill="none" stroke="#666" stroke-width="0.6" />
<line x1="812" y1="783" x2="921.5" y2="610.5" stroke="#000" stroke-width="3.2" stroke-linecap="round"/>
<path d="M927.5 601L912.5 609.5L927 617.5Z" fill="#000" stroke="none" stroke-width="0" />
<path d="M867 579H892V568H999V622H867Z" fill="#604a7b" stroke="none" stroke-width="0" fill-opacity="0.72"/>
<path d="M897.7 556.1H1012V568.1H1010.8V621.8H998.5V568.1H897.7Z" fill="#e46c0a" stroke="none" stroke-width="0" filter="url(#sh)"/>
</svg>
</body></html>
